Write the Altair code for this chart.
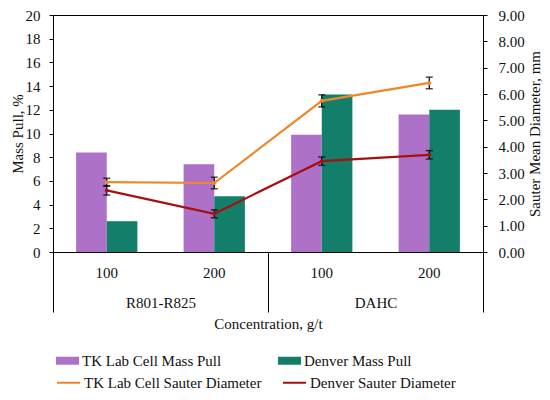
import altair as alt
import pandas as pd

# ---- data ----
groups = ["R801-R825", "R801-R825", "DAHC", "DAHC"]
conc = ["100", "200", "100", "200"]
tk_mass = [8.4, 7.4, 9.9, 11.6]
denver_mass = [2.6, 4.7, 13.3, 12.0]
tk_sauter = [2.65, 2.62, 5.74, 6.42]
denver_sauter = [2.34, 1.45, 3.45, 3.69]
tk_err = [0.15, 0.22, 0.23, 0.22]
denver_err = [0.18, 0.15, 0.16, 0.16]
bar_series = ["TK Lab Cell Mass Pull", "Denver Mass Pull"]
line_series = ["TK Lab Cell Sauter Diameter", "Denver Sauter Diameter"]
group_order = ["R801-R825", "DAHC"]
mass_ticks = list(range(0, 21, 2))
sauter_ticks = list(range(0, 10))

bar_colors = ["#AE71C8", "#137F6A"]
line_colors = ["#F0882A", "#A80F0F"]

cats = [f"{g} {c}" for g, c in zip(groups, conc)]

bar_rows = []
for i, cat in enumerate(cats):
    bar_rows.append({"cat": cat, "series": bar_series[0], "value": tk_mass[i]})
    bar_rows.append({"cat": cat, "series": bar_series[1], "value": denver_mass[i]})
bar_df = pd.DataFrame(bar_rows)

line_rows = []
for i, cat in enumerate(cats):
    line_rows.append({"cat": cat, "series": line_series[0], "value": tk_sauter[i],
                      "lo": tk_sauter[i] - tk_err[i], "hi": tk_sauter[i] + tk_err[i]})
    line_rows.append({"cat": cat, "series": line_series[1], "value": denver_sauter[i],
                      "lo": denver_sauter[i] - denver_err[i], "hi": denver_sauter[i] + denver_err[i]})
line_df = pd.DataFrame(line_rows)

group_df = pd.DataFrame({"group": group_order})

FONT = "Liberation Serif, Times New Roman, serif"
FS = 15
TXT = "#111111"


def xs():
    return alt.Scale(type="band", paddingInner=0.43, paddingOuter=0.215)


def rscale():
    return alt.Scale(domain=[0, 9], nice=False)


bars = alt.Chart(bar_df).mark_bar().encode(
    x=alt.X("cat:N", sort=cats, scale=xs(),
            axis=alt.Axis(title=None, orient="bottom", ticks=False, tickSize=0,
                          labelPadding=13, labelAngle=0, domain=False,
                          labelExpr="slice(datum.label, -3)")),
    xOffset=alt.XOffset("series:N", sort=bar_series,
                        scale=alt.Scale(paddingInner=0, paddingOuter=0)),
    y=alt.Y("value:Q", scale=alt.Scale(domain=[0, 20], nice=False),
            axis=alt.Axis(title="Mass Pull, %", orient="left", values=mass_ticks,
                          tickSize=4, labelPadding=9, grid=False,
                          titleX=-36, titleBaseline="middle")),
    fill=alt.Fill("series:N", sort=bar_series,
                  scale=alt.Scale(domain=bar_series, range=bar_colors),
                  legend=alt.Legend(title=None, orient="none", legendX=3, legendY=334,
                                    direction="horizontal", columns=2, columnPadding=56,
                                    symbolType="M-1,-0.348H1V0.348H-1Z", symbolSize=529,
                                    symbolStrokeWidth=0, labelOffset=3)),
)

lines = alt.Chart(line_df).mark_line(strokeWidth=2.2).encode(
    x=alt.X("cat:N", sort=cats, scale=xs(), axis=None),
    y=alt.Y("value:Q", scale=rscale(),
            axis=alt.Axis(title="Sauter Mean Diameter, mm", orient="right",
                          values=sauter_ticks, format=".2f", tickSize=4,
                          labelPadding=11, grid=False, titleAngle=270,
                          titleX=51, titleBaseline="middle")),
    stroke=alt.Stroke("series:N", sort=line_series,
                      scale=alt.Scale(domain=line_series, range=line_colors),
                      legend=alt.Legend(title=None, orient="none", legendX=3, legendY=355,
                                        direction="horizontal", columns=2, columnPadding=17,
                                        symbolType="stroke", symbolSize=529,
                                        symbolStrokeWidth=2, labelOffset=3)),
)

points = alt.Chart(line_df).mark_circle(size=16, opacity=1).encode(
    x=alt.X("cat:N", sort=cats, scale=xs(), axis=None),
    y=alt.Y("value:Q", scale=rscale(), axis=None),
    color=alt.Color("series:N", sort=line_series,
                    scale=alt.Scale(domain=line_series, range=line_colors), legend=None),
)

err_rule = alt.Chart(line_df).mark_rule(color="#000000", strokeWidth=1.2).encode(
    x=alt.X("cat:N", sort=cats, scale=xs(), axis=None),
    y=alt.Y("lo:Q", scale=rscale(), axis=None),
    y2="hi:Q",
)
cap_lo = alt.Chart(line_df).mark_tick(color="#000000", size=7, thickness=1.5).encode(
    x=alt.X("cat:N", sort=cats, scale=xs(), axis=None),
    y=alt.Y("lo:Q", scale=rscale(), axis=None),
)
cap_hi = alt.Chart(line_df).mark_tick(color="#000000", size=7, thickness=1.5).encode(
    x=alt.X("cat:N", sort=cats, scale=xs(), axis=None),
    y=alt.Y("hi:Q", scale=rscale(), axis=None),
)

group_layer = alt.Chart(group_df).mark_text(opacity=0).encode(
    x=alt.X("group:N", sort=group_order,
            scale=alt.Scale(paddingInner=0, paddingOuter=0),
            axis=alt.Axis(title="Concentration, g/t", orient="bottom", tickBand="extent",
                          tickSize=60, tickColor="#000000", tickWidth=1, domain=False,
                          labelPadding=-17, labelAngle=0, grid=False,
                          titleY=71, titleBaseline="middle")),
    text=alt.value(""),
)

chart = alt.layer(
    bars, lines, err_rule, cap_lo, cap_hi, points, group_layer
).resolve_scale(x="independent", y="independent").properties(
    width=430, height=237,
    autosize=alt.AutoSizeParams(type="none"),
    padding={"left": 45, "top": 7, "right": 59, "bottom": 140},
).configure(
    font=FONT,
).configure_view(
    stroke="#000000", strokeWidth=1,
).configure_axis(
    labelFont=FONT, titleFont=FONT, labelFontSize=FS, titleFontSize=FS,
    labelColor=TXT, titleColor=TXT, titleFontWeight="normal",
    domainColor="#000000", tickColor="#000000",
).configure_legend(
    labelFont=FONT, labelFontSize=FS, labelColor=TXT, labelLimit=300,
)

chart.save("out.html", embed_options={"renderer": "svg", "actions": False})
